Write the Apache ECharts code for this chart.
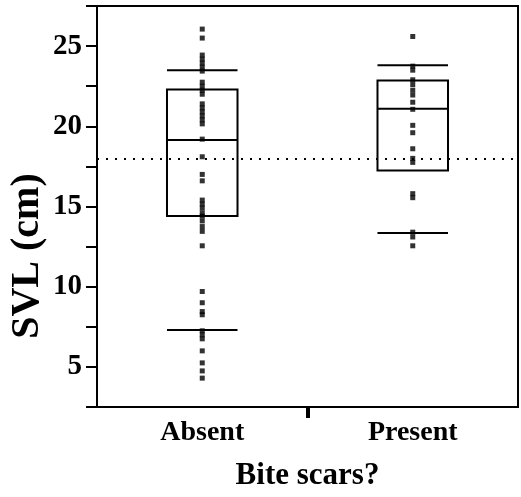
<!DOCTYPE html>
<html><head><meta charset="utf-8">
<script src="https://cdn.jsdelivr.net/npm/echarts@6/dist/echarts.min.js"></script>
<style>html,body{margin:0;padding:0;background:#fff}#c{width:521px;height:497px}</style>
</head><body><div id="c"></div>
<script>
// ---- data ----
const categories = ['Absent', 'Present'];
const absentValues = [26.06, 25.5, 24.44, 24.19, 23.94, 23.69, 23.44, 22.75, 22.5, 22.25, 22.0,
  21.4, 21.15, 20.9, 20.65, 20.4, 20.15, 19.2, 18.1, 17.0, 16.6, 15.4, 15.15, 14.9, 14.6, 14.4,
  14.1, 13.75, 13.45, 12.55, 9.7, 9.0, 8.45, 8.25, 7.25, 7.0, 6.75, 6.0, 5.25, 4.75, 4.3];
const presentValues = [25.6, 23.75, 23.5, 22.9, 22.6, 22.25, 21.95, 21.5, 21.06, 20.06, 19.6,
  18.6, 18.0, 17.75, 15.8, 15.55, 13.4, 13.1, 12.55];
// [lower whisker, Q1, median, Q3, upper whisker]
const boxAbsent = [7.3, 14.4, 19.15, 22.3, 23.5];
const boxPresent = [13.35, 17.25, 21.1, 22.85, 23.8];
const referenceValue = 18;
const yTickLabels = [5, 10, 15, 20, 25];
const xTitle = 'Bite scars?';
const yTitle = 'SVL (cm)';

const FONT = '"Liberation Serif", "Times New Roman", serif';
const chart = echarts.init(document.getElementById('c'), null, {renderer: 'canvas'});

const boxData = [[0.5].concat(boxAbsent), [1.5].concat(boxPresent)];

function renderBox(params, api) {
  const x = api.value(0);
  const px = api.coord([x, api.value(3)])[0];
  const half = api.size([1, 0])[0] * 0.335 / 2;
  const y = i => api.coord([x, api.value(i)])[1];
  const yLw = y(1), yQ1 = y(2), yMed = y(3), yQ3 = y(4), yUw = y(5);
  const st = {stroke: '#000', lineWidth: 2, fill: null};
  const hl = yy => ({type: 'line', shape: {x1: px - half, y1: yy, x2: px + half, y2: yy}, style: st});
  return {type: 'group', children: [
    {type: 'rect', shape: {x: px - half, y: yQ3, width: 2 * half, height: yQ1 - yQ3},
     style: {stroke: '#000', lineWidth: 2, fill: 'rgba(0,0,0,0)'}},
    hl(yMed), hl(yLw), hl(yUw)
  ]};
}

chart.setOption({
  animation: false,
  grid: {left: 97, right: 3, top: 6, bottom: 90, show: true, borderColor: '#000', borderWidth: 2},
  xAxis: {
    type: 'value', min: 0, max: 2, interval: 1,
    name: xTitle, nameLocation: 'middle', nameGap: 53,
    nameTextStyle: {fontFamily: FONT, fontWeight: 'bold', fontSize: 31, color: '#000'},
    axisLine: {show: true, lineStyle: {color: '#000', width: 2}},
    axisTick: {show: true, customValues: [1], length: 11, lineStyle: {color: '#000', width: 4}},
    axisLabel: {customValues: [0.5, 1.5], formatter: v => categories[Math.round(v - 0.5)],
      margin: 12, fontFamily: FONT, fontWeight: 'bold', fontSize: 28, color: '#000'},
    splitLine: {show: false}
  },
  yAxis: {
    type: 'value', min: 2.5, max: 27.5, interval: 2.5,
    axisLine: {show: true, lineStyle: {color: '#000', width: 2}},
    axisTick: {show: true, length: 11, lineStyle: {color: '#000', width: 2}},
    axisLabel: {margin: 15, fontFamily: FONT, fontWeight: 'bold', fontSize: 29, color: '#000',
      formatter: v => (yTickLabels.indexOf(v) >= 0 ? String(v) : '')},
    splitLine: {show: false}
  },
  graphic: [{
    type: 'text', x: 28, y: 256, rotation: Math.PI / 2,
    style: {text: yTitle, fontFamily: FONT, fontWeight: 'bold', fontSize: 40, fill: '#000',
      align: 'center', verticalAlign: 'middle'}
  }],
  series: [
    {type: 'custom', renderItem: renderBox, data: boxData, z: 2, silent: true},
    {type: 'scatter', symbol: 'rect', symbolSize: 5, itemStyle: {color: '#000'}, z: 3,
     data: absentValues.map(v => [0.5, v]),
     markLine: {silent: true, symbol: ['none', 'none'], label: {show: false},
       lineStyle: {color: '#000', width: 2, type: [2, 7]}, data: [{yAxis: referenceValue}]}},
    {type: 'scatter', symbol: 'rect', symbolSize: 5, itemStyle: {color: '#000'}, z: 3,
     data: presentValues.map(v => [1.5, v])}
  ]
});
</script></body></html>
